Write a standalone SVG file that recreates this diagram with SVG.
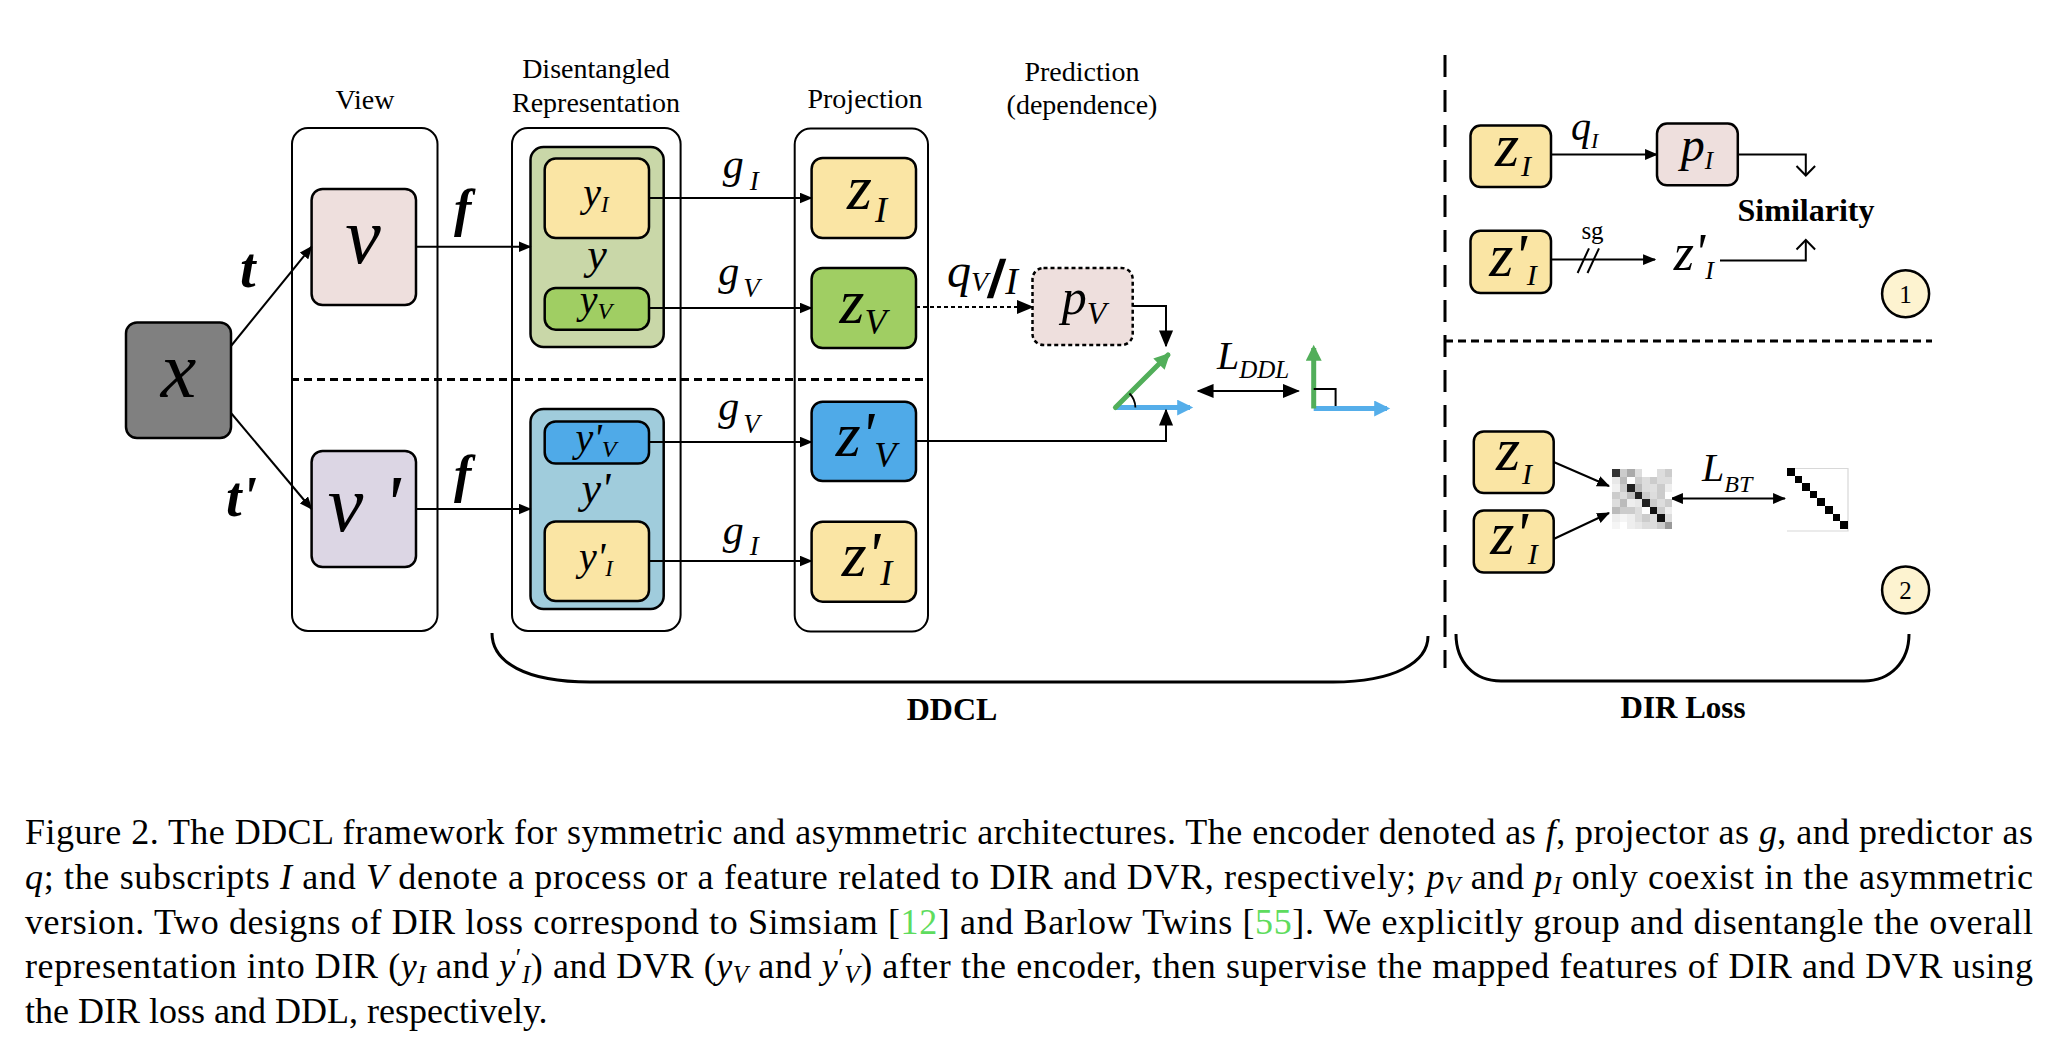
<svg xmlns="http://www.w3.org/2000/svg" width="2068" height="1050" viewBox="0 0 2068 1050">
<style>
text { font-family: "Liberation Serif", "Times New Roman", serif; fill: #000; }
.m { font-style: italic; }
.mb { font-style: italic; font-weight: bold; }
.hdr { font-size: 28px; text-anchor: middle; }
.bold { font-weight: bold; }
.box { stroke: #000; stroke-width: 2.5; }
.cont { fill: #fff; stroke: #000; stroke-width: 2; }
.ln { fill: none; stroke: #000; stroke-width: 2; }
.dash { fill: none; stroke: #000; stroke-width: 3; stroke-dasharray: 8 5; }
.cap { font-size: 36px; }
.ref { fill: #5EDC5E; }
</style>
<defs>
<marker id="ah" viewBox="0 0 12 10" refX="11" refY="5" markerWidth="13" markerHeight="11" markerUnits="userSpaceOnUse" orient="auto-start-reverse"><path d="M0,0 L12,5 L0,10 z" fill="#000"/></marker>
<marker id="ahL" viewBox="0 0 12 10" refX="11" refY="5" markerWidth="17" markerHeight="15" markerUnits="userSpaceOnUse" orient="auto-start-reverse"><path d="M0,0 L12,5 L0,10 z" fill="#000"/></marker>
<marker id="ahg" viewBox="0 0 10 10" refX="8" refY="5" markerWidth="18" markerHeight="16" markerUnits="userSpaceOnUse" orient="auto"><path d="M0,0 L10,5 L0,10 z" fill="#52AE5A"/></marker>
<marker id="ahb" viewBox="0 0 10 10" refX="8" refY="5" markerWidth="18" markerHeight="16" markerUnits="userSpaceOnUse" orient="auto"><path d="M0,0 L10,5 L0,10 z" fill="#55AEEA"/></marker>
</defs>
<rect width="2068" height="1050" fill="#fff"/>

<!-- headers -->
<text class="hdr" x="365" y="109">View</text>
<text class="hdr" x="596" y="78">Disentangled</text>
<text class="hdr" x="596" y="112">Representation</text>
<text class="hdr" x="865" y="108">Projection</text>
<text class="hdr" x="1082" y="81">Prediction</text>
<text class="hdr" x="1082" y="114">(dependence)</text>

<!-- containers -->
<g id="view-container"><rect class="cont" x="292" y="128" width="145.5" height="503" rx="16"/></g>
<g id="repr-container"><rect class="cont" x="512" y="128" width="168.6" height="503" rx="16"/></g>
<g id="proj-container"><rect class="cont" x="794.7" y="128.6" width="133.3" height="503" rx="16"/></g>

<line class="dash" x1="291" y1="379.5" x2="929" y2="379.5"/>

<g id="node-x">
<rect class="box" x="126" y="322.4" width="105" height="115.6" rx="11" fill="#808080"/>
<text class="m" x="178.5" y="397" font-size="80" text-anchor="middle">x</text>
</g>
<g id="node-v">
<rect class="box" x="311.6" y="189" width="104.4" height="116" rx="11" fill="#EEDFDD"/>
<text class="m" x="363" y="263" font-size="80" text-anchor="middle">v</text>
</g>
<g id="node-v2">
<rect class="box" x="311.6" y="451" width="104.4" height="116" rx="11" fill="#DCD6E4"/>
<text class="m" x="364" y="531" font-size="80" text-anchor="middle">v '</text>
</g>

<g id="group-y">
<rect class="box" x="530.5" y="147" width="133.2" height="200" rx="13" fill="#C9D7A8"/>
<text class="m" x="597" y="269" font-size="44" text-anchor="middle">y</text>
</g>
<g id="node-yI">
<rect class="box" x="544.7" y="158.6" width="104.3" height="79.4" rx="11" fill="#FAE5A4"/>
<text class="m" x="596" y="206" font-size="40" text-anchor="middle">y<tspan font-size="23" dy="6">I</tspan></text>
</g>
<g id="node-yV">
<rect class="box" x="544.7" y="288" width="104.3" height="41.7" rx="11" fill="#A0CE63"/>
<text class="m" x="596" y="313" font-size="40" text-anchor="middle">y<tspan font-size="24" dy="6">V</tspan></text>
</g>
<g id="group-y2">
<rect class="box" x="530.5" y="409" width="133.2" height="200" rx="13" fill="#A0CCDC"/>
<text class="m" x="596" y="503" font-size="44" text-anchor="middle">y'</text>
</g>
<g id="node-y2V">
<rect class="box" x="544.7" y="421.5" width="104.3" height="42.1" rx="11" fill="#4FAAE8"/>
<text class="m" x="596" y="451" font-size="40" text-anchor="middle">y'<tspan font-size="24" dy="6">V</tspan></text>
</g>
<g id="node-y2I">
<rect class="box" x="544.7" y="521.4" width="104.3" height="79.6" rx="11" fill="#FAE5A4"/>
<text class="m" x="596" y="570" font-size="40" text-anchor="middle">y'<tspan font-size="23" dy="6">I</tspan></text>
</g>

<g id="node-zI">
<rect class="box" x="811.6" y="158" width="104.4" height="80" rx="11" fill="#FAE5A4"/>
<text class="m" x="867" y="209" font-size="64" text-anchor="middle">z<tspan font-size="36" dx="3" dy="13">I</tspan></text>
</g>
<g id="node-zV">
<rect class="box" x="811.6" y="268" width="104.4" height="80" rx="11" fill="#A0CE63"/>
<text class="m" x="863" y="323" font-size="64" text-anchor="middle">z<tspan font-size="36" dy="11">V</tspan></text>
</g>
<g id="node-z2V">
<rect class="box" x="811.6" y="401.7" width="104.4" height="79.3" rx="11" fill="#4FAAE8"/>
<text class="m" x="866" y="455.6" font-size="64" text-anchor="middle">z'<tspan font-size="36" dy="11">V</tspan></text>
</g>
<g id="node-z2I">
<rect class="box" x="811.6" y="521.7" width="104.4" height="80" rx="11" fill="#FAE5A4"/>
<text class="m" x="867" y="575.6" font-size="64" text-anchor="middle">z'<tspan font-size="36" dy="9">I</tspan></text>
</g>

<g id="node-pV">
<rect x="1032.5" y="268" width="100.2" height="77" rx="11" fill="#EEDFDD" stroke="#000" stroke-width="2.5" stroke-dasharray="4 3"/>
<text class="m" x="1084" y="314" font-size="50" text-anchor="middle">p<tspan font-size="32" dy="10">V</tspan></text>
</g>

<g id="ddl-vectors">
<line x1="1115.4" y1="407.6" x2="1190" y2="407.6" stroke="#55AEEA" stroke-width="5" marker-end="url(#ahb)"/>
<line x1="1115.4" y1="407.6" x2="1168" y2="355" stroke="#52AE5A" stroke-width="5" stroke-linecap="round" marker-end="url(#ahg)"/>
<path d="M1135.4,407.6 A20,20 0 0 0 1129.5,393.5" fill="none" stroke="#000" stroke-width="1.8"/>
<line x1="1313.7" y1="408.5" x2="1387" y2="408.5" stroke="#55AEEA" stroke-width="5" marker-end="url(#ahb)"/>
<line x1="1313.7" y1="408.5" x2="1313.7" y2="348" stroke="#52AE5A" stroke-width="5" marker-end="url(#ahg)"/>
<polyline points="1313.7,389 1335.6,389 1335.6,406" fill="none" stroke="#000" stroke-width="2"/>
</g>
<text class="m" x="1217" y="369" font-size="40">L<tspan font-size="25" dy="9">DDL</tspan></text>

<!-- connectors -->
<g id="connectors">
<line class="ln" x1="231" y1="346" x2="311.6" y2="246.7" marker-end="url(#ah)"/>
<line class="ln" x1="231" y1="413" x2="311.6" y2="509" marker-end="url(#ah)"/>
<line class="ln" x1="416" y1="246.7" x2="530.5" y2="246.7" marker-end="url(#ah)"/>
<line class="ln" x1="416" y1="509" x2="530.5" y2="509" marker-end="url(#ah)"/>
<line class="ln" x1="649" y1="198" x2="811.6" y2="198" marker-end="url(#ah)"/>
<line class="ln" x1="649" y1="308" x2="811.6" y2="308" marker-end="url(#ah)"/>
<line class="ln" x1="649" y1="442" x2="811.6" y2="442" marker-end="url(#ah)"/>
<line class="ln" x1="649" y1="561" x2="811.6" y2="561" marker-end="url(#ah)"/>
<line class="ln" x1="916" y1="307" x2="1032.5" y2="307" stroke-dasharray="4 3" marker-end="url(#ahL)"/>
<polyline class="ln" points="1132.7,306 1166,306 1166,346" marker-end="url(#ahL)"/>
<polyline class="ln" points="916,441 1166,441 1166,410" marker-end="url(#ahL)"/>
<line class="ln" x1="1198" y1="391" x2="1298.5" y2="391" stroke-width="4" marker-start="url(#ahL)" marker-end="url(#ahL)"/>
<line class="ln" x1="1551" y1="154.5" x2="1657" y2="154.5" marker-end="url(#ah)"/>
<polyline class="ln" points="1737.8,154.5 1805.8,154.5 1805.8,175"/>
<polyline class="ln" points="1796.5,166 1805.8,175.5 1815.1,166"/>
<line class="ln" x1="1551" y1="259.6" x2="1655" y2="259.6" marker-end="url(#ah)"/>
<line class="ln" x1="1577.6" y1="273" x2="1589" y2="248.3"/>
<line class="ln" x1="1587.5" y1="273" x2="1599" y2="248.3"/>
<polyline class="ln" points="1720,260.6 1805.8,260.6 1805.8,240.5"/>
<polyline class="ln" points="1796.5,249.5 1805.8,240 1815.1,249.5"/>
<line class="ln" x1="1553.7" y1="462" x2="1609" y2="486" marker-end="url(#ah)"/>
<line class="ln" x1="1553.7" y1="539" x2="1609" y2="513" marker-end="url(#ah)"/>
<line class="ln" x1="1671" y1="498.5" x2="1785" y2="498.5" marker-start="url(#ah)" marker-end="url(#ah)"/>
</g>

<!-- edge labels -->
<text class="mb" x="240" y="287" font-size="56">t</text>
<text class="mb" x="226" y="516" font-size="56">t'</text>
<text class="mb" x="454" y="226" font-size="52">f</text>
<text class="mb" x="454" y="492" font-size="52">f</text>
<text class="m" x="722.7" y="178" font-size="42">g<tspan font-size="27" dx="6" dy="12">I</tspan></text>
<text class="m" x="718.3" y="285" font-size="42">g<tspan font-size="27" dx="4" dy="12">V</tspan></text>
<text class="m" x="718.3" y="420" font-size="42">g<tspan font-size="27" dx="4" dy="13">V</tspan></text>
<text class="m" x="722.7" y="544" font-size="42">g<tspan font-size="27" dx="6" dy="11">I</tspan></text>
<text class="m" x="947" y="287" font-size="48">q<tspan font-size="28" dy="4">V</tspan><tspan font-size="54" font-weight="bold" font-style="normal" stroke="#000" stroke-width="2.5" dx="1" dy="5">/</tspan><tspan font-size="38" dx="1" dy="-2">I</tspan></text>

<!-- DIR loss panel -->
<line x1="1445" y1="55" x2="1445" y2="668" stroke="#000" stroke-width="3" stroke-dasharray="22 13"/>
<line class="dash" x1="1445" y1="341" x2="1932" y2="341" stroke-width="2.5"/>

<g id="node-r1-zI">
<rect class="box" x="1470.5" y="125.6" width="80.5" height="61.4" rx="10" fill="#FAE5A4"/>
<text class="m" x="1513" y="166" font-size="62" text-anchor="middle">z<tspan font-size="30" dx="2" dy="10">I</tspan></text>
</g>
<g id="node-r1-pI">
<rect class="box" x="1657" y="123.6" width="80.8" height="61.7" rx="10" fill="#EEDFDD"/>
<text class="m" x="1697" y="161" font-size="48" text-anchor="middle">p<tspan font-size="25" dy="8">I</tspan></text>
</g>
<text class="m" x="1571" y="139.6" font-size="40">q<tspan font-size="22" dy="8">I</tspan></text>
<g id="node-r1-z2I">
<rect class="box" x="1470.5" y="230.8" width="80.5" height="62.2" rx="10" fill="#FAE5A4"/>
<text class="m" x="1513" y="275.5" font-size="62" text-anchor="middle">z'<tspan font-size="30" dy="9">I</tspan></text>
</g>
<text x="1592.5" y="239" font-size="25" text-anchor="middle">sg</text>
<text class="m" x="1673.8" y="270" font-size="52">z'<tspan font-size="26" dy="9">I</tspan></text>
<text class="bold" x="1806" y="221" font-size="32" text-anchor="middle">Similarity</text>
<g id="badge-1">
<circle cx="1905.6" cy="293.8" r="23.5" fill="#FDF3D0" stroke="#000" stroke-width="2.5"/>
<text x="1905.6" y="302.5" font-size="25" text-anchor="middle">1</text>
</g>

<g id="node-r2-zI">
<rect class="box" x="1473.8" y="431.5" width="79.9" height="61.5" rx="10" fill="#FAE5A4"/>
<text class="m" x="1514" y="469.6" font-size="62" text-anchor="middle">z<tspan font-size="30" dx="2" dy="14">I</tspan></text>
</g>
<g id="node-r2-z2I">
<rect class="box" x="1473.8" y="510.4" width="79.9" height="62.1" rx="10" fill="#FAE5A4"/>
<text class="m" x="1514" y="554" font-size="62" text-anchor="middle">z'<tspan font-size="30" dy="10">I</tspan></text>
</g>
<g id="matrix-corr">
<rect x="1612" y="469" width="60" height="60" fill="#fff"/>
<g shape-rendering="crispEdges">
<rect x="1612" y="469" width="7.5" height="7.5" fill="#333"/><rect x="1619.5" y="469" width="7.5" height="7.5" fill="#ccc"/><rect x="1627" y="469" width="7.5" height="7.5" fill="#aaa"/><rect x="1634.5" y="469" width="7.5" height="7.5" fill="#ddd"/><rect x="1642" y="469" width="7.5" height="7.5" fill="#fff"/><rect x="1649.5" y="469" width="7.5" height="7.5" fill="#fff"/><rect x="1657" y="469" width="7.5" height="7.5" fill="#ddd"/><rect x="1664.5" y="469" width="7.5" height="7.5" fill="#ccc"/>
<rect x="1612" y="476.5" width="7.5" height="7.5" fill="#e8e8e8"/><rect x="1619.5" y="476.5" width="7.5" height="7.5" fill="#bbb"/><rect x="1627" y="476.5" width="7.5" height="7.5" fill="#fff"/><rect x="1634.5" y="476.5" width="7.5" height="7.5" fill="#ccc"/><rect x="1642" y="476.5" width="7.5" height="7.5" fill="#ddd"/><rect x="1649.5" y="476.5" width="7.5" height="7.5" fill="#ccc"/><rect x="1657" y="476.5" width="7.5" height="7.5" fill="#ddd"/><rect x="1664.5" y="476.5" width="7.5" height="7.5" fill="#ddd"/>
<rect x="1612" y="484" width="7.5" height="7.5" fill="#f0f0f0"/><rect x="1619.5" y="484" width="7.5" height="7.5" fill="#ccc"/><rect x="1627" y="484" width="7.5" height="7.5" fill="#222"/><rect x="1634.5" y="484" width="7.5" height="7.5" fill="#bbb"/><rect x="1642" y="484" width="7.5" height="7.5" fill="#ddd"/><rect x="1649.5" y="484" width="7.5" height="7.5" fill="#e0e0e0"/><rect x="1657" y="484" width="7.5" height="7.5" fill="#ccc"/><rect x="1664.5" y="484" width="7.5" height="7.5" fill="#eee"/>
<rect x="1612" y="491.5" width="7.5" height="7.5" fill="#ccc"/><rect x="1619.5" y="491.5" width="7.5" height="7.5" fill="#ddd"/><rect x="1627" y="491.5" width="7.5" height="7.5" fill="#c0c0c0"/><rect x="1634.5" y="491.5" width="7.5" height="7.5" fill="#222"/><rect x="1642" y="491.5" width="7.5" height="7.5" fill="#ccc"/><rect x="1649.5" y="491.5" width="7.5" height="7.5" fill="#ddd"/><rect x="1657" y="491.5" width="7.5" height="7.5" fill="#ccc"/><rect x="1664.5" y="491.5" width="7.5" height="7.5" fill="#fff"/>
<rect x="1612" y="499" width="7.5" height="7.5" fill="#ddd"/><rect x="1619.5" y="499" width="7.5" height="7.5" fill="#bbb"/><rect x="1627" y="499" width="7.5" height="7.5" fill="#eee"/><rect x="1634.5" y="499" width="7.5" height="7.5" fill="#e8e8e8"/><rect x="1642" y="499" width="7.5" height="7.5" fill="#222"/><rect x="1649.5" y="499" width="7.5" height="7.5" fill="#ccc"/><rect x="1657" y="499" width="7.5" height="7.5" fill="#ddd"/><rect x="1664.5" y="499" width="7.5" height="7.5" fill="#ccc"/>
<rect x="1612" y="506.5" width="7.5" height="7.5" fill="#bbb"/><rect x="1619.5" y="506.5" width="7.5" height="7.5" fill="#ccc"/><rect x="1627" y="506.5" width="7.5" height="7.5" fill="#ccc"/><rect x="1634.5" y="506.5" width="7.5" height="7.5" fill="#ddd"/><rect x="1642" y="506.5" width="7.5" height="7.5" fill="#fff"/><rect x="1649.5" y="506.5" width="7.5" height="7.5" fill="#111"/><rect x="1657" y="506.5" width="7.5" height="7.5" fill="#ccc"/><rect x="1664.5" y="506.5" width="7.5" height="7.5" fill="#eee"/>
<rect x="1612" y="514" width="7.5" height="7.5" fill="#eee"/><rect x="1619.5" y="514" width="7.5" height="7.5" fill="#f5f5f5"/><rect x="1627" y="514" width="7.5" height="7.5" fill="#eee"/><rect x="1634.5" y="514" width="7.5" height="7.5" fill="#ddd"/><rect x="1642" y="514" width="7.5" height="7.5" fill="#ccc"/><rect x="1649.5" y="514" width="7.5" height="7.5" fill="#ddd"/><rect x="1657" y="514" width="7.5" height="7.5" fill="#111"/><rect x="1664.5" y="514" width="7.5" height="7.5" fill="#ddd"/>
<rect x="1612" y="521.5" width="7.5" height="7.5" fill="#f5f5f5"/><rect x="1619.5" y="521.5" width="7.5" height="7.5" fill="#fff"/><rect x="1627" y="521.5" width="7.5" height="7.5" fill="#eee"/><rect x="1634.5" y="521.5" width="7.5" height="7.5" fill="#e8e8e8"/><rect x="1642" y="521.5" width="7.5" height="7.5" fill="#ddd"/><rect x="1649.5" y="521.5" width="7.5" height="7.5" fill="#ddd"/><rect x="1657" y="521.5" width="7.5" height="7.5" fill="#ccc"/><rect x="1664.5" y="521.5" width="7.5" height="7.5" fill="#999"/>
</g>
</g>
<text class="m" x="1702" y="481" font-size="40">L<tspan font-size="24" dy="11">BT</tspan></text>
<g id="matrix-identity">
<path d="M1787,468.5 H1848 V531 H1787" fill="none" stroke="#d8d8d8" stroke-width="1.2"/>
<g fill="#000" shape-rendering="crispEdges">
<rect x="1787" y="468" width="7.6" height="7.6"/><rect x="1794.6" y="475.6" width="7.6" height="7.6"/><rect x="1802.2" y="483.2" width="7.6" height="7.6"/><rect x="1809.8" y="490.8" width="7.6" height="7.6"/><rect x="1817.4" y="498.4" width="7.6" height="7.6"/><rect x="1825" y="506" width="7.6" height="7.6"/><rect x="1832.6" y="513.6" width="7.6" height="7.6"/><rect x="1840.2" y="521.2" width="7.6" height="7.6"/>
</g>
</g>
<g id="badge-2">
<circle cx="1905.6" cy="590" r="23.5" fill="#FDF3D0" stroke="#000" stroke-width="2.5"/>
<text x="1905.6" y="598.7" font-size="25" text-anchor="middle">2</text>
</g>

<!-- braces -->
<path d="M492,633 C492,662 525,682 590,682 L1333,682 C1395,682 1428,662 1428,636" fill="none" stroke="#000" stroke-width="3"/>
<text class="bold" x="952" y="720" font-size="32" text-anchor="middle">DDCL</text>
<path d="M1456,634 C1456,662 1474,681 1501,681 L1864,681 C1890,681 1909,662 1909,634" fill="none" stroke="#000" stroke-width="3"/>
<text class="bold" x="1683" y="718" font-size="31" text-anchor="middle">DIR Loss</text>

<!-- caption -->
<text class="cap" x="25" y="844" textLength="2008" lengthAdjust="spacing">Figure 2. The DDCL framework for symmetric and asymmetric architectures. The encoder denoted as <tspan font-style="italic">f</tspan>, projector as <tspan font-style="italic">g</tspan>, and predictor as</text>
<text class="cap" x="25" y="889" textLength="2008" lengthAdjust="spacing"><tspan font-style="italic">q</tspan>; the subscripts <tspan font-style="italic">I</tspan> and <tspan font-style="italic">V</tspan> denote a process or a feature related to DIR and DVR, respectively; <tspan font-style="italic">p</tspan><tspan font-style="italic" font-size="25" dy="5">V</tspan><tspan dy="-5"> and </tspan><tspan font-style="italic">p</tspan><tspan font-style="italic" font-size="25" dy="5">I</tspan><tspan dy="-5"> only coexist in the asymmetric</tspan></text>
<text class="cap" x="25" y="934" textLength="2008" lengthAdjust="spacing">version.  Two designs of DIR loss correspond to Simsiam [<tspan class="ref">12</tspan>] and Barlow Twins [<tspan class="ref">55</tspan>].  We explicitly group and disentangle the overall</text>
<text class="cap" x="25" y="978" textLength="2008" lengthAdjust="spacing">representation into DIR (<tspan font-style="italic">y</tspan><tspan font-style="italic" font-size="25" dy="5">I</tspan><tspan dy="-5"> and </tspan><tspan font-style="italic">y</tspan><tspan font-size="25" dy="-12">′</tspan><tspan font-style="italic" font-size="25" dy="17">I</tspan><tspan dy="-5">) and DVR (</tspan><tspan font-style="italic">y</tspan><tspan font-style="italic" font-size="25" dy="5">V</tspan><tspan dy="-5"> and </tspan><tspan font-style="italic">y</tspan><tspan font-size="25" dy="-12">′</tspan><tspan font-style="italic" font-size="25" dy="17">V</tspan><tspan dy="-5">) after the encoder, then supervise the mapped features of DIR and DVR using</tspan></text>
<text class="cap" x="25" y="1023">the DIR loss and DDL, respectively.</text>
</svg>
